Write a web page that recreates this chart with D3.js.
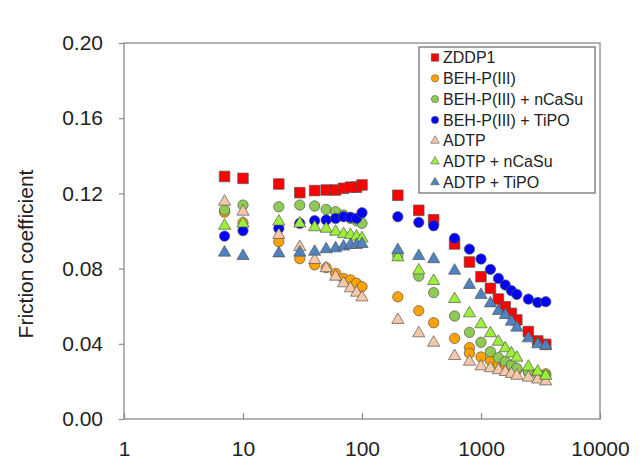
<!DOCTYPE html>
<html>
<head>
<meta charset="utf-8">
<script src="https://cdn.jsdelivr.net/npm/d3@7"></script>
<style>
  body { margin: 0; background: #fff; }
  text { font-family: "Liberation Sans", Arial, sans-serif; fill: #222; }
</style>
</head>
<body>
<svg id="chart" width="644" height="475"></svg>
<script>
// sliding distance / cycles (shared by every series)
const xValues = [7, 10, 20, 30, 40, 50, 60, 70, 80, 90, 100,
  200, 300, 400, 600, 800, 1000, 1200, 1400, 1600, 1800, 2000, 2500, 3000, 3500];

const zddp1 = [0.129, 0.128, 0.125, 0.1204, 0.1215, 0.1218, 0.1218, 0.1227, 0.1233, 0.1233, 0.1245,
  0.119, 0.111, 0.106, 0.0931, 0.0835, 0.0757, 0.0695, 0.0638, 0.0597, 0.0562, 0.0527, 0.0465, 0.0415, 0.0397];
const behP = [0.110, 0.1044, 0.0943, 0.0853, 0.082, 0.0805, 0.0775, 0.0748, 0.074, 0.0722, 0.0704,
  0.065, 0.0576, 0.0512, 0.0429, 0.038, 0.033, 0.031, 0.029, 0.028, 0.027, 0.026, 0.025, 0.024, 0.024];
const behPCa = [0.1112, 0.1138, 0.1129, 0.1138, 0.1133, 0.1115, 0.1103, 0.1085, 0.1067, 0.1055, 0.1041,
  0.087, 0.076, 0.0672, 0.0548, 0.0461, 0.0408, 0.0358, 0.0326, 0.0305, 0.0287, 0.027, 0.0252, 0.024, 0.023];
const behPTi = [0.0973, 0.1002, 0.1014, 0.1041, 0.1055, 0.1059, 0.1067, 0.1076, 0.1073, 0.1067, 0.1097,
  0.1076, 0.1046, 0.1028, 0.0961, 0.0904, 0.0851, 0.0796, 0.0748, 0.0713, 0.0683, 0.0663, 0.0638, 0.062, 0.0624];
const adtp = [0.1156, 0.1103, 0.0979, 0.0915, 0.0846, 0.0802, 0.0757, 0.0722, 0.0695, 0.0672, 0.0647,
  0.0527, 0.0456, 0.0406, 0.0335, 0.0305, 0.028, 0.027, 0.026, 0.025, 0.024, 0.023, 0.022, 0.021, 0.020];
const adtpCa = [0.1028, 0.104, 0.105, 0.104, 0.102, 0.1012, 0.0996, 0.0984, 0.0979, 0.097, 0.0961,
  0.086, 0.079, 0.0734, 0.0638, 0.0562, 0.0504, 0.0456, 0.0411, 0.0376, 0.0349, 0.0326, 0.0278, 0.0252, 0.023];
const adtpTi = [0.0885, 0.0867, 0.0881, 0.0885, 0.089, 0.0903, 0.0908, 0.0917, 0.0926, 0.0926, 0.0931,
  0.0899, 0.0867, 0.085, 0.0789, 0.0713, 0.066, 0.0615, 0.0574, 0.0553, 0.0518, 0.0486, 0.0429, 0.0397, 0.039];
// a repeated BEH-P(III) reading at 800
const behPExtra = [[800, 0.035]];

const seriesNames = ["ZDDP1", "BEH-P(III)", "BEH-P(III) + nCaSu", "BEH-P(III) + TiPO",
  "ADTP", "ADTP + nCaSu", "ADTP + TiPO"];
const yTicks = [0, 0.04, 0.08, 0.12, 0.16, 0.20];
const xTicks = [1, 10, 100, 1000, 10000];

const styles = [
  { shape: d3.symbolSquare, fill: "#ff0000", size: 112 },
  { shape: d3.symbolCircle, fill: "#ffa200", size: 84 },
  { shape: d3.symbolCircle, fill: "#8fca55", size: 84 },
  { shape: d3.symbolCircle, fill: "#0000ff", size: 84 },
  { shape: d3.symbolTriangle, fill: "#f6c8a8", size: 64 },
  { shape: d3.symbolTriangle, fill: "#9cf03a", size: 64 },
  { shape: d3.symbolTriangle, fill: "#4f82c0", size: 64 }
];

const allY = [zddp1, behP, behPCa, behPTi, adtp, adtpCa, adtpTi];
const series = seriesNames.map((name, i) => {
  const pts = xValues.map((x, j) => [x, allY[i][j]]);
  if (i === 1) behPExtra.forEach(p => pts.push(p));
  return { name, pts, style: styles[i] };
});

const svg = d3.select("#chart");
const m = { left: 124, right: 600, top: 43, bottom: 419 };

const x = d3.scaleLog().domain([1, 10000]).range([m.left, m.right]);
const y = d3.scaleLinear().domain([0, 0.2]).range([m.bottom, m.top]);

// plot frame
svg.append("rect")
  .attr("x", m.left).attr("y", m.top)
  .attr("width", m.right - m.left).attr("height", m.bottom - m.top)
  .attr("fill", "none").attr("stroke", "#8a8a8a").attr("stroke-width", 1.3);

const yAxis = svg.append("g")
  .attr("transform", `translate(${m.left},0)`)
  .call(d3.axisLeft(y).tickValues(yTicks).tickFormat(d3.format(".2f"))
    .tickSizeInner(5).tickSizeOuter(0).tickPadding(16));
yAxis.select(".domain").remove();
yAxis.selectAll("line").attr("stroke", "#8a8a8a").attr("stroke-width", 1.2);
yAxis.selectAll("text").attr("font-size", 21).attr("fill", "#222")
  .attr("font-family", "'Liberation Sans', Arial, sans-serif");

const xAxis = svg.append("g")
  .attr("transform", `translate(0,${m.bottom})`)
  .call(d3.axisBottom(x).tickValues(xTicks).tickFormat(d3.format("d"))
    .tickSizeInner(-6).tickSizeOuter(0).tickPadding(22));
xAxis.select(".domain").remove();
xAxis.selectAll("line").attr("stroke", "#8a8a8a").attr("stroke-width", 1.2);
xAxis.selectAll("text").attr("font-size", 21).attr("fill", "#222")
  .attr("font-family", "'Liberation Sans', Arial, sans-serif");

svg.append("text")
  .attr("transform", "translate(33,254) rotate(-90)")
  .attr("text-anchor", "middle")
  .attr("font-size", 21)
  .text("Friction coefficient");

// markers, drawn in legend order
const symbol = d3.symbol();
series.forEach(s => {
  svg.append("g").selectAll("path")
    .data(s.pts)
    .join("path")
      .attr("transform", d => `translate(${x(d[0])},${y(d[1])})`)
      .attr("d", symbol.type(s.style.shape).size(s.style.size)())
      .attr("fill", s.style.fill)
      .attr("stroke", "#555")
      .attr("stroke-width", 0.7);
});

// legend
const legend = svg.append("g").attr("transform", "translate(419,47)");
legend.append("rect")
  .attr("width", 176).attr("height", 146)
  .attr("fill", "#fff").attr("stroke", "#666").attr("stroke-width", 1.2);
const items = legend.selectAll("g.item")
  .data(series)
  .join("g").attr("class", "item")
  .attr("transform", (d, i) => `translate(0,${10.5 + i * 20.8})`);
items.append("path")
  .attr("transform", "translate(16,0)")
  .attr("d", d => d3.symbol().type(d.style.shape).size(d.style.size * 0.5)())
  .attr("fill", d => d.style.fill)
  .attr("stroke", "#555").attr("stroke-width", 0.6);
items.append("text")
  .attr("x", 24).attr("dy", "0.36em")
  .attr("font-size", 16)
  .text(d => d.name);
</script>
</body>
</html>
